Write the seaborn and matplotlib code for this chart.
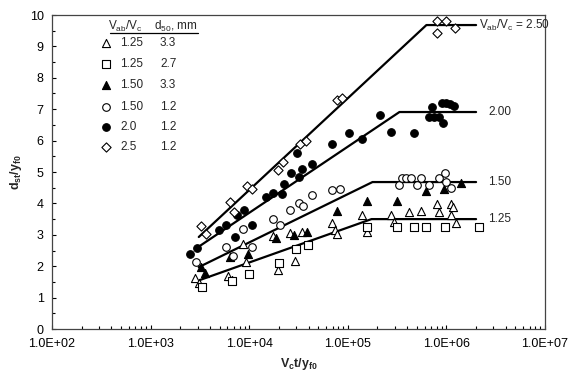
import matplotlib
matplotlib.use("Agg")
import matplotlib.pyplot as plt
import seaborn as sns
import pandas as pd
from matplotlib.ticker import FuncFormatter, MultipleLocator, LogLocator, NullFormatter

# Valores
# Vab/Vc = 1.25, d50 = 3.3 mm (triângulo aberto)
tri_open_x = [2800, 3080, 6060, 6650, 8590, 9210, 17300, 19500, 25700, 28900, 34000,
              68400, 73400, 77000, 138000, 155000, 277000, 297000, 422000, 558000,
              811000, 848000, 1120000, 1180000, 1120000, 1260000]
tri_open_y = [1.62, 1.46, 1.69, 1.56, 2.71, 2.13, 2.96, 1.88, 3.06, 2.17, 3.09,
              3.38, 3.15, 3.03, 3.63, 3.09, 3.63, 3.41, 3.73, 3.76,
              3.98, 3.73, 3.98, 3.89, 3.63, 3.38]

# Vab/Vc = 1.25, d50 = 2.7 mm (quadrado aberto)
sq_open_x = [3300, 6650, 9890, 19900, 29600, 39100, 158000, 319000, 474000, 627000,
             977000, 2160000]
sq_open_y = [1.34, 1.53, 1.75, 2.10, 2.55, 2.68, 3.25, 3.25, 3.25, 3.25, 3.25, 3.25]

# Vab/Vc = 1.50, d50 = 3.3 mm (triângulo cheio)
tri_fill_x = [3230, 3540, 6350, 9660, 18500, 28200, 38200, 76900, 155000, 312000,
              627000, 955000, 1390000]
tri_fill_y = [1.97, 1.78, 2.29, 2.39, 2.90, 2.99, 3.09, 3.76, 4.08, 4.08, 4.39, 4.46, 4.65]

# Vab/Vc = 1.50, d50 = 1.2 mm (círculo aberto)
circ_open_x = [2870, 5780, 6810, 8590, 10600, 17300, 20400, 25700, 31700, 34800, 43000,
               68400, 82400, 334000, 358000, 393000, 442000, 508000, 558000, 673000,
               848000, 977000, 1000000, 1120000]
circ_open_y = [2.13, 2.61, 2.32, 3.18, 2.61, 3.50, 3.31, 3.79, 4.01, 3.92, 4.27,
               4.43, 4.46, 4.59, 4.81, 4.81, 4.81, 4.59, 4.81, 4.59,
               4.81, 4.97, 4.68, 4.49]

# Vab/Vc = 2.0, d50 = 1.2 mm (círculo cheio)
circ_fill_x = [2490, 2940, 4910, 5780, 7470, 8790, 7130, 10600, 14700, 17300, 21300,
               22300, 26300, 30300, 31700, 34000, 43000, 68400, 101800, 137800, 210000,
               277000, 474000, 721000, 673000, 756000, 848000, 933000, 911000, 1000000,
               1100000, 1200000]
circ_fill_y = [2.39, 2.58, 3.15, 3.31, 3.63, 3.79, 2.93, 3.31, 4.20, 4.33, 4.30,
               4.62, 4.97, 5.61, 4.84, 5.10, 5.25, 5.89, 6.24, 6.05, 6.82,
               6.27, 6.24, 7.07, 6.75, 6.75, 6.75, 6.56, 7.20, 7.20,
               7.17, 7.10]

# Vab/Vc = 2.5, d50 = 1.2 mm (losango aberto)
diam_open_x = [3230, 3630, 6350, 6970, 9440, 10600, 19500, 21800, 32400, 37300,
               76900, 86400, 811000, 1000000, 811000, 1230000]
diam_open_y = [3.28, 3.03, 4.04, 3.73, 4.55, 4.46, 5.06, 5.32, 5.89, 5.99,
               7.29, 7.36, 9.81, 9.81, 9.43, 9.59]

# Curvas de ajuste (início, joelho, fim)
fit_labels = [r"V$_{ab}$/V$_c$ = 2.50", "2.00", "1.50", "1.25"]
fit_x = [[3080, 627000, 2.0e6], [2940, 334000, 2.0e6],
         [3080, 178000, 2.0e6], [3160, 174000, 2.0e6]]
fit_y = [[2.93, 9.68, 9.68], [2.58, 6.91, 6.91],
         [1.97, 4.68, 4.68], [1.56, 3.50, 3.50]]
fit_label_x = [2.16e6, 2.66e6, 2.66e6, 2.66e6]

legend_ratio = ["1.25", "1.25", "1.50", "1.50", "2.0", "2.5"]
legend_d50 = ["3.3", "2.7", "3.3", "1.2", "1.2", "1.2"]

series = [
    (tri_open_x, tri_open_y, "^", "white", 34),
    (sq_open_x, sq_open_y, "s", "white", 30),
    (tri_fill_x, tri_fill_y, "^", "black", 34),
    (circ_open_x, circ_open_y, "o", "white", 30),
    (circ_fill_x, circ_fill_y, "o", "black", 30),
    (diam_open_x, diam_open_y, "D", "white", 22),
]

sns.set_style("ticks")
plt.rcParams["font.family"] = ["Liberation Sans", "DejaVu Sans"]
plt.rcParams["mathtext.fontset"] = "custom"
plt.rcParams["mathtext.rm"] = "Liberation Sans"
plt.rcParams["mathtext.it"] = "Liberation Sans"
plt.rcParams["mathtext.bf"] = "Liberation Sans:bold"
plt.rcParams["mathtext.default"] = "regular"

fig = plt.figure(figsize=(5.75, 3.91), dpi=100)
ax = fig.add_axes([52 / 575, 1 - 329 / 391, 493 / 575, 314 / 391])

# Linhas de ajuste
for lx, ly in zip(fit_x, fit_y):
    df_line = pd.DataFrame({"x": lx, "y": ly})
    sns.lineplot(data=df_line, x="x", y="y", ax=ax, color="black", lw=1.6,
                 estimator=None, sort=False, zorder=2)

# Pontos experimentais
for sx, sy, mk, fc, sz in series:
    df_pts = pd.DataFrame({"x": sx, "y": sy})
    sns.scatterplot(data=df_pts, x="x", y="y", ax=ax, marker=mk, s=sz,
                    facecolor=fc, edgecolor="black", linewidth=0.8, zorder=3)

for lab, lx, ly in zip(fit_labels, fit_label_x, fit_y):
    ax.text(lx, ly[-1], lab, fontsize=8.5, ha="left", va="center")

ax.set_xscale("log")
ax.set_xlim(1e2, 1e7)
ax.set_ylim(0, 10)
ax.xaxis.set_major_locator(LogLocator(base=10, numticks=10))
ax.xaxis.set_minor_locator(LogLocator(base=10, subs=range(2, 10), numticks=20))
ax.xaxis.set_minor_formatter(NullFormatter())
ax.xaxis.set_major_formatter(FuncFormatter(lambda v, p: f"{v:.1E}"))
ax.yaxis.set_major_locator(MultipleLocator(1))
ax.yaxis.set_minor_locator(MultipleLocator(0.5))
ax.tick_params(which="both", direction="in", top=False, right=False,
               labelsize=9, colors="black")
ax.tick_params(which="major", length=3, width=0.8)
ax.tick_params(which="minor", length=2, width=0.8)
ax.tick_params(axis="x", which="major", pad=6.5)
ax.tick_params(axis="y", which="major", pad=6)
for sp in ax.spines.values():
    sp.set_visible(True)
    sp.set_linewidth(0.9)
    sp.set_color("#444444")

ax.set_xlabel(r"$\mathbf{V_c t/y_{f0}}$", fontsize=9, labelpad=4)
ax.set_ylabel(r"$\mathbf{d_{st}/y_{f0}}$", fontsize=9, labelpad=4)

# Legenda em tabela
ax.text(0.1136, 0.965, r"V$_{ab}$/V$_c$", transform=ax.transAxes, fontsize=8.5,
        ha="left", va="center")
ax.text(0.207, 0.965, r"d$_{50}$, mm", transform=ax.transAxes, fontsize=8.5,
        ha="left", va="center")
ax.plot([0.118, 0.296], [0.943, 0.943], transform=ax.transAxes, color="black", lw=0.9)
row_y = [0.911, 0.844, 0.777, 0.707, 0.643, 0.580]
for (sx, sy, mk, fc, sz), ry, r, d in zip(series, row_y, legend_ratio, legend_d50):
    ax.scatter([0.1095], [ry], transform=ax.transAxes, marker=mk, s=sz,
               facecolor=fc, edgecolor="black", linewidth=0.8)
    ax.text(0.138, ry, r, transform=ax.transAxes, fontsize=8.5, ha="left", va="center")
    ax.text(0.219, ry, d, transform=ax.transAxes, fontsize=8.5, ha="left", va="center")

fig.savefig("out.png", dpi=100)
plt.close(fig)
